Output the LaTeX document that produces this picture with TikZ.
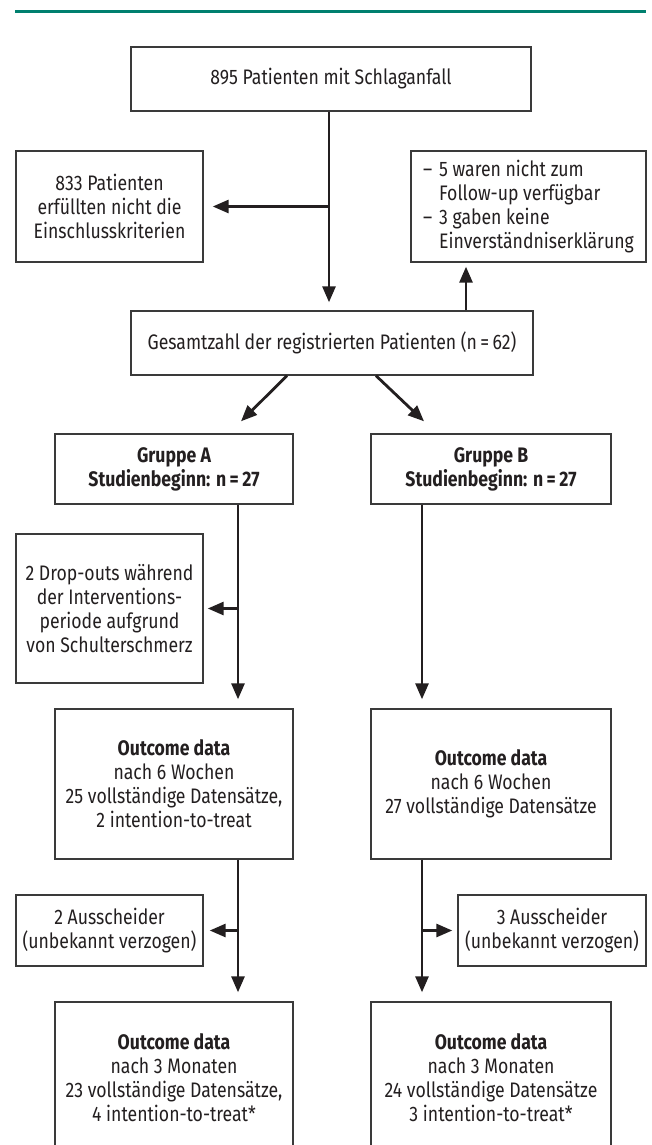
\documentclass[tikz,border=0pt]{standalone}
\usepackage{fontspec}
\setmainfont{Fira Sans}[FakeStretch=0.84]
\usetikzlibrary{arrows.meta}
\definecolor{teal1}{HTML}{00806F}
\definecolor{ink}{HTML}{231F20}
\definecolor{boxline}{HTML}{3A3A3A}
\begin{document}
\begin{tikzpicture}[x=1pt,y=-1pt,
  box/.style={draw=boxline, line width=1.4pt, fill=white, inner sep=0pt, align=center,
    font=\fontsize{21}{24}\selectfont, text=ink},
  boldbox/.style={box, font=\fontsize{21}{24}\selectfont\bfseries},
  conn/.style={draw=ink, line width=2.8pt},
  arr/.style={conn, -{Triangle[length=16pt,width=13pt]}},
]
\useasboundingbox (0,0) rectangle (652,1145);
\clip (0,0) rectangle (652,1145);
\fill[white] (0,0) rectangle (652,1145);
\draw[teal1, line width=3pt] (15,12) -- (646,12);

\node[box, minimum width=400pt, minimum height=64pt] (top) at (331,79) {895 Patienten mit Schlaganfall};
\node[box, minimum width=187pt, minimum height=111pt] (excl) at (109.5,206.5) {833 Patienten\\erfüllten nicht die\\Einschlusskriterien};
\node[box, minimum width=235pt, minimum height=111pt, align=left] (lost) at (528.5,206.5)
  {\makebox[16pt][l]{–}5 waren nicht zum\\\hspace*{16pt}Follow-up verfügbar\\\makebox[16pt][l]{–}3 gaben keine\\\hspace*{16pt}Einverständniserklärung};
\node[box, minimum width=402pt, minimum height=64pt] (total) at (332,343) {Gesamtzahl der registrierten Patienten (n\,=\,62)};
\node[boldbox, minimum width=238pt, minimum height=70pt] (ga) at (174,469) {Gruppe A\\Studienbeginn: n\,=\,27};
\node[boldbox, minimum width=240pt, minimum height=70pt] (gb) at (491,469) {Gruppe B\\Studienbeginn: n\,=\,27};
\node[box, minimum width=187pt, minimum height=149pt] (drop) at (109.5,608.5) {2 Drop-outs während\\der Interventions-\\periode aufgrund\\von Schulterschmerz};
\node[box, minimum width=238pt, minimum height=150pt] (oa1) at (174,784) {\textbf{Outcome data}\\nach 6 Wochen\\25 vollständige Datensätze,\\2 intention-to-treat};
\node[box, minimum width=240pt, minimum height=150pt] (ob1) at (491,784) {\textbf{Outcome data}\\nach 6 Wochen\\27 vollständige Datensätze};
\node[box, minimum width=187pt, minimum height=71pt] (ausA) at (109.5,930.5) {2 Ausscheider\\(unbekannt verzogen)};
\node[box, minimum width=188pt, minimum height=71pt] (ausB) at (552,930.5) {3 Ausscheider\\(unbekannt verzogen)};
\node[box, minimum width=238pt, minimum height=151pt] (oa2) at (174,1077.5) {\textbf{Outcome data}\\nach 3 Monaten\\23 vollständige Datensätze,\\4 intention-to-treat*};
\node[box, minimum width=240pt, minimum height=151pt] (ob2) at (491,1077.5) {\textbf{Outcome data}\\nach 3 Monaten\\24 vollständige Datensätze\\3 intention-to-treat*};

\coordinate (mx) at (329,0);
\coordinate (ux) at (466,0);
\coordinate (ax) at (238,0);
\coordinate (bx) at (422,0);

\draw[arr, shorten >=8pt] (top.south -| mx) -- (total.north -| mx);
\draw[arr] (mx |- excl.east) -- ([xshift=9pt]excl.east);
\draw[arr, shorten >=4pt] (total.north -| ux) -- (lost.south -| ux);
\draw[arr] ([xshift=-45pt]total.south) -- ([xshift=67pt,yshift=12pt]ga.north);
\draw[arr] ([xshift=44pt]total.south) -- ([xshift=-67pt,yshift=12pt]gb.north);

\draw[arr, shorten >=9pt] (ga.south -| ax) -- (oa1.north -| ax);
\draw[arr] (ax |- drop.east) -- ([xshift=4pt]drop.east);
\draw[arr, shorten >=9pt] (gb.south -| bx) -- (ob1.north -| bx);

\draw[arr, shorten >=9pt] (oa1.south -| ax) -- (oa2.north -| ax);
\draw[arr] (ax |- ausA.east) -- ([xshift=6pt]ausA.east);
\draw[arr, shorten >=9pt] (ob1.south -| bx) -- (ob2.north -| bx);
\draw[arr] (bx |- ausB.west) -- ([xshift=-5pt]ausB.west);
\end{tikzpicture}
\end{document}
